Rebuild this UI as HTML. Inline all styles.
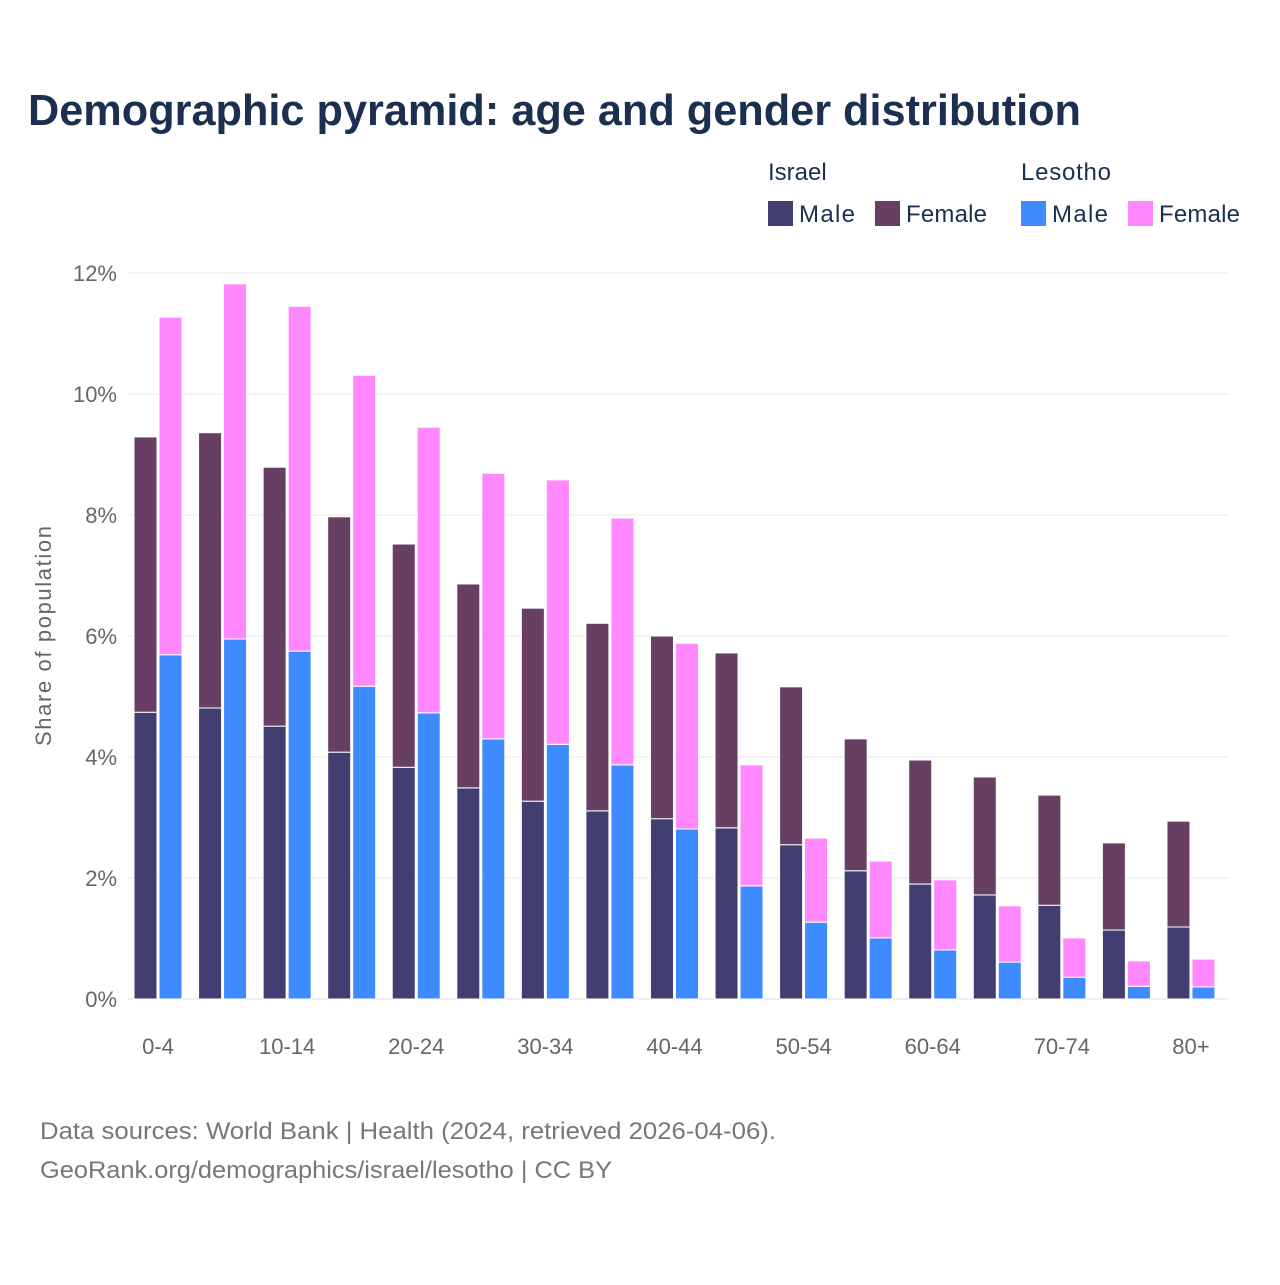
<!DOCTYPE html>
<html><head><meta charset="utf-8"><style>
body{margin:0;background:#fff;font-family:"Liberation Sans",sans-serif}
svg text{font-family:"Liberation Sans",sans-serif}
</style></head><body>
<svg width="1280" height="1280" xmlns="http://www.w3.org/2000/svg" id="chart">
<rect width="1280" height="1280" fill="#fff"/>
<text x="28" y="125" font-size="44" font-weight="bold" fill="#1b3050" textLength="1053" lengthAdjust="spacingAndGlyphs">Demographic pyramid: age and gender distribution</text>
<g font-size="24" fill="#1b3050">
<text x="768" y="180">Israel</text>
<text x="1021" y="180" textLength="90">Lesotho</text>
<g><rect x="768" y="201" width="25" height="25" fill="#433e72"/><text x="799" y="222" textLength="56">Male</text></g>
<g><rect x="875" y="201" width="25" height="25" fill="#663f63"/><text x="906" y="222" textLength="81">Female</text></g>
<g><rect x="1021" y="201" width="25" height="25" fill="#3e8bff"/><text x="1052" y="222" textLength="56">Male</text></g>
<g><rect x="1128" y="201" width="25" height="25" fill="#ff88ff"/><text x="1159" y="222" textLength="81">Female</text></g>
</g>
<g id="grid"></g><g id="bars"></g><g id="xlabels"></g>
<text transform="translate(51,636) rotate(-90)" text-anchor="middle" font-size="22" fill="#666" textLength="220">Share of population</text>
<text x="40" y="1139" font-size="24" fill="#777" textLength="736" lengthAdjust="spacingAndGlyphs">Data sources: World Bank | Health (2024, retrieved 2026-04-06).</text>
<text x="40" y="1178" font-size="24" fill="#777" textLength="572" lengthAdjust="spacingAndGlyphs">GeoRank.org/demographics/israel/lesotho | CC BY</text>
</svg>
<script>
const categories=["0-4","5-9","10-14","15-19","20-24","25-29","30-34","35-39","40-44","45-49","50-54","55-59","60-64","65-69","70-74","75-79","80+"];
const israelMale=[4.74,4.81,4.51,4.08,3.83,3.49,3.27,3.11,2.98,2.83,2.55,2.12,1.90,1.72,1.55,1.14,1.19];
const israelFemale=[4.55,4.55,4.28,3.89,3.69,3.37,3.19,3.10,3.02,2.89,2.61,2.18,2.05,1.95,1.82,1.44,1.75];
const lesothoMale=[5.69,5.95,5.75,5.17,4.73,4.30,4.21,3.87,2.81,1.87,1.27,1.01,0.81,0.61,0.36,0.21,0.20];
const lesothoFemale=[5.58,5.87,5.70,5.14,4.72,4.39,4.37,4.08,3.07,2.00,1.39,1.27,1.16,0.93,0.65,0.42,0.46];
const yTicks=[0,2,4,6,8,10,12];
const NS="http://www.w3.org/2000/svg";
const y=v=>999-v*60.5;
const x=i=>158+i*64.56;
function mk(t,a,p){const e=document.createElementNS(NS,t);for(const k in a)e.setAttribute(k,a[k]);p.appendChild(e);return e;}
const grid=document.getElementById('grid');
yTicks.forEach(t=>{
  const l=mk('line',{x1:128,x2:1228,y1:y(t),y2:y(t),stroke:t===0?'#ddd':'#e8e8e8','stroke-width':1},grid);
  
  
  const tx=mk('text',{x:117,y:y(t)+8,'text-anchor':'end','font-size':22,fill:'#666'},grid);
  tx.textContent=t+'%';
  
  
});
const bars=document.getElementById('bars');
function bar(x0,v0,v1,c,name){
  const r=mk('rect',{x:x0,y:y(v1),width:23,height:Math.max(0,y(v0)-y(v1)),fill:c,stroke:'#fff','stroke-width':1},bars);
  
  
}
categories.forEach((c,i)=>{
  const cx=x(i);
  bar(cx-24,0,israelMale[i],'#433e72','bar-israel-male-'+c);
  bar(cx-24,israelMale[i],israelMale[i]+israelFemale[i],'#663f63','bar-israel-female-'+c);
  bar(cx+1,0,lesothoMale[i],'#3e8bff','bar-lesotho-male-'+c);
  bar(cx+1,lesothoMale[i],lesothoMale[i]+lesothoFemale[i],'#ff88ff','bar-lesotho-female-'+c);
  if(i%2===0){
    const t=mk('text',{x:cx,y:1054,'text-anchor':'middle','font-size':22,fill:'#666'},document.getElementById('xlabels'));
    t.textContent=c;
    
    
  }
});
</script>
</body></html>
